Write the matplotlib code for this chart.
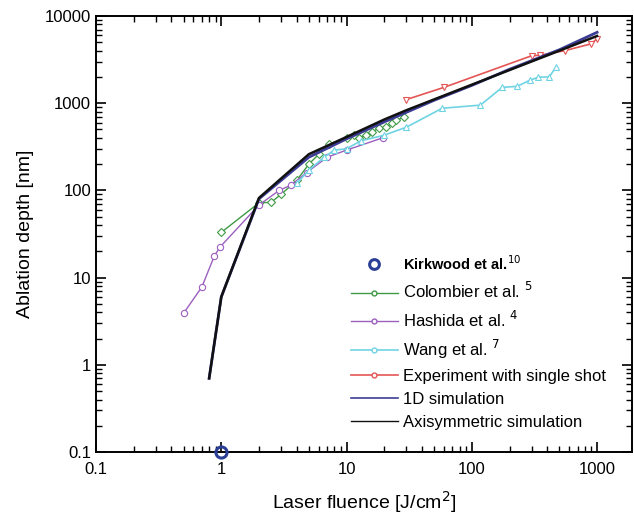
import matplotlib
matplotlib.use("Agg")
import matplotlib.pyplot as plt
from matplotlib.lines import Line2D

plt.rcParams['font.family'] = ['Liberation Sans', 'DejaVu Sans']

# Data
kirk_x = [1.0]
kirk_y = [0.1]

colombier_x = [1, 2, 2.5, 3, 4, 5, 6, 7.3, 10, 11.5, 12.6, 14.4, 16, 18.3, 20.7, 23, 25, 29]
colombier_y = [33, 72, 73, 90, 130, 200, 260, 340, 400, 430, 400, 430, 470, 520, 530, 590, 640, 690]

hashida_x = [0.5, 0.7, 0.88, 0.98, 2.0, 2.9, 3.6, 4.8, 7, 10, 19.4]
hashida_y = [3.9, 7.8, 17.7, 22.5, 68, 100, 115, 160, 240, 290, 400]

wang_x = [4, 5, 6.6, 8, 10, 13, 20, 30, 58, 117, 175, 230, 290, 340, 415, 470]
wang_y = [120, 170, 240, 290, 300, 370, 430, 530, 875, 950, 1520, 1560, 1830, 1990, 2000, 2600]

exp_x = [30, 60, 300, 350, 550, 900, 1000]
exp_y = [1100, 1520, 3500, 3550, 4000, 4800, 5500]

sim1d_x = [0.8, 1, 2, 5, 10, 20, 50, 100, 200, 500, 1000]
sim1d_y = [0.7, 6, 80, 240, 390, 610, 1080, 1600, 2450, 4100, 6500]

axi_x = [0.8, 1, 2, 5, 10, 20, 30, 100, 200, 500, 1000]
axi_y = [0.7, 6, 82, 260, 410, 650, 830, 1630, 2400, 4000, 5900]

xticks = [0.1, 1, 10, 100, 1000]
xtick_labels = ['0.1', '1', '10', '100', '1000']
yticks = [0.1, 1, 10, 100, 1000, 10000]
ytick_labels = ['0.1', '1', '10', '100', '1000', '10000']

c_green = '#3f9a45'
c_purple = '#9b5fbf'
c_cyan = '#6fd3e3'
c_red = '#e45555'
c_navy = '#3c3c96'
c_kirk = '#2a3f95'

fig = plt.figure(figsize=(6.34, 5.2), dpi=100)
ax = fig.add_axes([96/634, 68/520, 536/634, 436/520])

ax.plot(colombier_x, colombier_y, '-', color=c_green, lw=1.0, marker='D', ms=4,
        mfc='white', mec=c_green, mew=0.8)
ax.plot(hashida_x, hashida_y, '-', color=c_purple, lw=1.0, marker='o', ms=4.5,
        mfc='white', mec=c_purple, mew=0.8)
ax.plot(wang_x, wang_y, '-', color=c_cyan, lw=1.2, marker='^', ms=4,
        mfc='white', mec=c_cyan, mew=0.8)
ax.plot(exp_x, exp_y, '-', color=c_red, lw=1.2, marker='v', ms=5,
        mfc='white', mec=c_red, mew=0.8)
ax.plot(sim1d_x, sim1d_y, '-', color=c_navy, lw=2.0)
ax.plot(axi_x, axi_y, '-', color='#111111', lw=1.8)
ax.plot(kirk_x, kirk_y, 'o', ms=8, mfc='none', mec=c_kirk, mew=2.2, clip_on=False, zorder=5)

ax.set_xscale('log')
ax.set_yscale('log')
ax.set_xlim(0.1, 1900)
ax.set_ylim(0.1, 10000)
ax.set_xticks(xticks)
ax.set_xticklabels(xtick_labels)
ax.set_yticks(yticks)
ax.set_yticklabels(ytick_labels)

ax.tick_params(which='both', direction='in', top=True, right=True, labelsize=12)
ax.tick_params(axis='x', which='major', pad=7)
ax.tick_params(which='major', length=7, width=1.2)
ax.tick_params(which='minor', length=4, width=1.0)
for s in ax.spines.values():
    s.set_linewidth(1.4)

ax.set_xlabel('Laser fluence [J/cm$^2$]', fontsize=14, labelpad=9)
ax.set_ylabel('Ablation depth [nm]', fontsize=14, labelpad=8)

handles = [
    Line2D([], [], ls='none', marker='o', ms=7, mfc='none', mec=c_kirk, mew=2.2),
    Line2D([], [], color=c_green, lw=1.0, marker='o', ms=3.5, mfc='white', mec=c_green),
    Line2D([], [], color=c_purple, lw=1.0, marker='o', ms=3.5, mfc='white', mec=c_purple),
    Line2D([], [], color=c_cyan, lw=1.2, marker='o', ms=3.5, mfc='white', mec=c_cyan),
    Line2D([], [], color=c_red, lw=1.2, marker='o', ms=3.5, mfc='white', mec=c_red),
    Line2D([], [], color=c_navy, lw=1.2),
    Line2D([], [], color='#111111', lw=1.0),
]
labels = [
    r'Kirkwood et al.$^{10}$',
    r'Colombier et al. $^{5}$',
    r'Hashida et al. $^{4}$',
    r'Wang et al. $^{7}$',
    'Experiment with single shot',
    '1D simulation',
    'Axisymmetric simulation',
]
leg = ax.legend(handles, labels, loc='upper left', bbox_to_anchor=(0.463, 0.468),
                frameon=False, fontsize=12, handlelength=2.8, handletextpad=0.3,
                labelspacing=0.48, numpoints=1, borderaxespad=0)
leg.get_texts()[0].set_fontweight('bold')
leg.get_texts()[0].set_fontsize(10.5)

fig.savefig('out.png', dpi=100)
